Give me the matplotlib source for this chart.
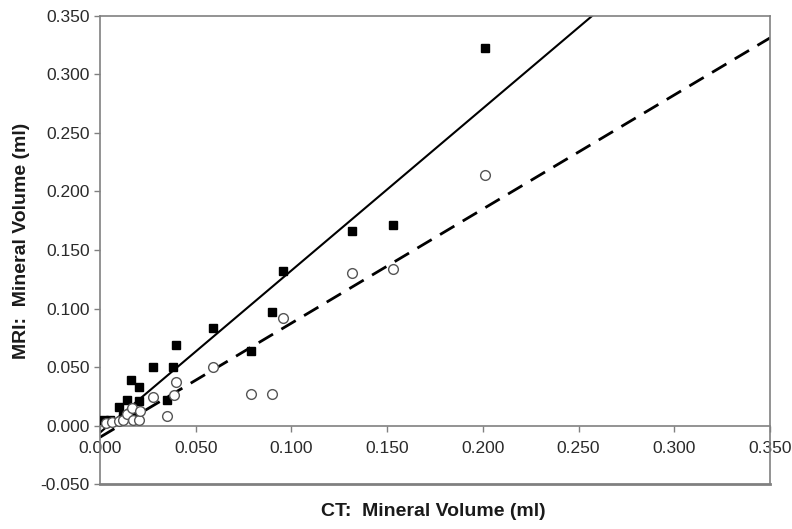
import matplotlib
matplotlib.use("Agg")
import matplotlib.pyplot as plt
import numpy as np

plt.rcParams['font.family'] = ['Liberation Sans', 'DejaVu Sans']

# filled squares: CT vs MRI (method 1)
ct_sq = [0.002, 0.005, 0.010, 0.012, 0.014, 0.016, 0.0165, 0.0206, 0.0206, 0.0275,
         0.035, 0.038, 0.0395, 0.059, 0.079, 0.0897, 0.0955, 0.1315, 0.153, 0.201]
mri_sq = [0.005, 0.005, 0.016, 0.008, 0.022, 0.039, 0.011, 0.033, 0.021, 0.050,
          0.022, 0.050, 0.069, 0.083, 0.064, 0.097, 0.132, 0.166, 0.171, 0.323]

# open circles: CT vs MRI (method 2)
ct_circ = [0.003, 0.006, 0.010, 0.012, 0.014, 0.0165, 0.017, 0.0206, 0.021, 0.0275,
           0.035, 0.0385, 0.0395, 0.059, 0.079, 0.0897, 0.0955, 0.1315, 0.153, 0.201]
mri_circ = [0.002, 0.003, 0.004, 0.005, 0.010, 0.015, 0.005, 0.005, 0.012, 0.024,
            0.008, 0.026, 0.037, 0.050, 0.027, 0.027, 0.092, 0.130, 0.134, 0.214]

# regression fits (slope, intercept)
fit_sq = (1.385, -0.006)
fit_circ = (0.975, -0.010)

fig = plt.figure(figsize=(7.92, 5.29), dpi=100)
ax = fig.add_axes([0.1263, 0.085, 0.9722 - 0.1263, 0.9698 - 0.085])

xs = np.array([0.0, 0.35])
ax.plot(xs, fit_sq[0] * xs + fit_sq[1], color='black', lw=1.5, zorder=2)
ax.plot(xs, fit_circ[0] * xs + fit_circ[1], color='black', lw=2.0,
        dashes=(6, 3.5), zorder=2)

ax.plot(ct_sq, mri_sq, linestyle='none', marker='s', ms=6.3,
        mfc='black', mec='black', zorder=3)
ax.plot(ct_circ, mri_circ, linestyle='none', marker='o', ms=7,
        mfc='white', mec='#555555', mew=1.0, zorder=3)

ax.set_xlim(0, 0.35)
ax.set_ylim(-0.05, 0.35)
ax.set_xticks(np.arange(0, 0.351, 0.05))
ax.set_yticks(np.arange(-0.05, 0.351, 0.05))
ax.set_xticklabels(['%.3f' % v for v in np.arange(0, 0.351, 0.05)])
ax.set_yticklabels(['%.3f' % v if abs(v) > 1e-9 else '0.000'
                    for v in np.arange(-0.05, 0.351, 0.05)])

for s in ['top', 'right', 'left', 'bottom']:
    ax.spines[s].set_color('#808080')
    ax.spines[s].set_linewidth(1.2)
ax.spines['bottom'].set_position(('data', 0))
ax.axhline(-0.05, color='#808080', lw=2.0, clip_on=False, zorder=1)

ax.tick_params(axis='both', direction='out', length=4, width=1,
               color='#808080', labelsize=12.5, labelcolor='#2a2a2a')
ax.tick_params(axis='x', pad=7)

fig.text(0.547, 1 - 512 / 529, 'CT:  Mineral Volume (ml)', ha='center', va='center',
         fontsize=14, fontweight='bold', color='#1a1a1a')
fig.text(22 / 792, 1 - 241 / 529, 'MRI:  Mineral Volume (ml)', ha='center', va='center',
         rotation=90, fontsize=14, fontweight='bold', color='#1a1a1a')

fig.savefig('out.png', dpi=100)
